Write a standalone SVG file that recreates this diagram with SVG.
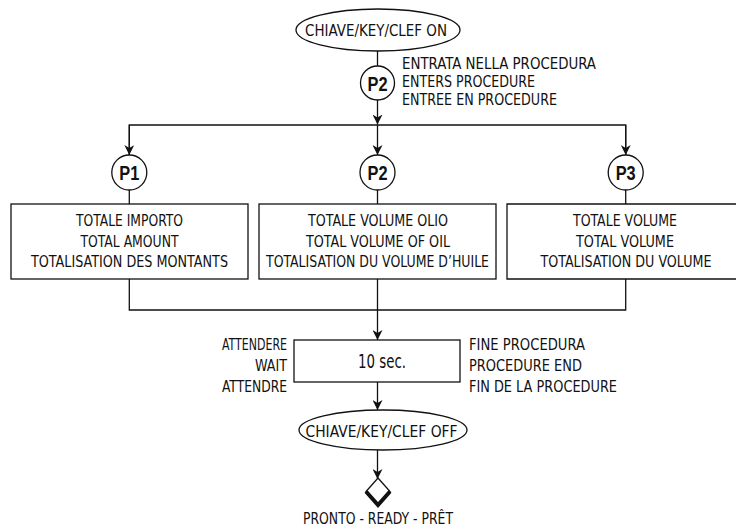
<svg xmlns="http://www.w3.org/2000/svg" width="736" height="527" viewBox="0 0 736 527">
  <defs>
    <marker id="arrow" viewBox="0 0 10 10" refX="10" refY="5" markerWidth="10" markerHeight="10" markerUnits="userSpaceOnUse" orient="auto">
      <path d="M0,0 L10,5 L0,10 L3,5 z" fill="#111"/>
    </marker>
    <style>
      .ln { fill: none; stroke: #111; stroke-width: 1.3; }
      .shape { fill: #fff; stroke: #111; stroke-width: 1.3; }
      .t { font-family: "Liberation Sans Narrow", "DejaVu Sans Condensed", "Liberation Sans", sans-serif; font-size: 16.5px; fill: #111; }
      .c { text-anchor: middle; }
      .r { text-anchor: end; }
      .p { font-family: "Liberation Sans Narrow", "Liberation Sans", sans-serif; font-weight: bold; font-size: 21px; fill: #111; text-anchor: middle; }
    </style>
  </defs>
  <rect width="736" height="527" fill="#fff"/>

  <!-- connectors -->
  <g id="connectors">
    <line class="ln" x1="377.5" y1="51" x2="377.5" y2="66"/>
    <line class="ln" x1="377.5" y1="100" x2="377.5" y2="124.5" marker-end="url(#arrow)"/>
    <polyline class="ln" points="129.3,155 129.3,125 625.7,125 625.7,155"/>
    <line class="ln" x1="129.3" y1="125" x2="129.3" y2="155" marker-end="url(#arrow)"/>
    <line class="ln" x1="377.5" y1="125" x2="377.5" y2="155" marker-end="url(#arrow)"/>
    <line class="ln" x1="625.7" y1="125" x2="625.7" y2="155" marker-end="url(#arrow)"/>
    <line class="ln" x1="129.3" y1="190" x2="129.3" y2="204"/>
    <line class="ln" x1="377.5" y1="190" x2="377.5" y2="204"/>
    <line class="ln" x1="625.7" y1="190" x2="625.7" y2="204"/>
    <polyline class="ln" points="129.3,279 129.3,310 625.7,310 625.7,279"/>
    <line class="ln" x1="377.5" y1="279" x2="377.5" y2="340" marker-end="url(#arrow)"/>
    <line class="ln" x1="377.5" y1="382" x2="377.5" y2="410" marker-end="url(#arrow)"/>
    <line class="ln" x1="377.5" y1="450" x2="377.5" y2="479" marker-end="url(#arrow)"/>
  </g>

  <!-- start -->
  <g id="key-on">
    <ellipse class="shape" cx="378" cy="30" rx="82" ry="21"/>
    <text class="t c" x="376" y="36" textLength="142" lengthAdjust="spacingAndGlyphs">CHIAVE/KEY/CLEF ON</text>
  </g>

  <g id="enter-p2">
    <circle class="shape" cx="377.5" cy="83" r="17"/>
    <text class="p" x="377.5" y="90.5" textLength="20" lengthAdjust="spacingAndGlyphs">P2</text>
    <text class="t" x="402" y="69" textLength="194" lengthAdjust="spacingAndGlyphs">ENTRATA NELLA PROCEDURA</text>
    <text class="t" x="402" y="87" textLength="133" lengthAdjust="spacingAndGlyphs">ENTERS PROCEDURE</text>
    <text class="t" x="402" y="105" textLength="155" lengthAdjust="spacingAndGlyphs">ENTREE EN PROCEDURE</text>
  </g>

  <!-- branch P1 -->
  <g id="p1">
    <circle class="shape" cx="129.3" cy="172.5" r="17.5"/>
    <text class="p" x="129.3" y="180" textLength="20" lengthAdjust="spacingAndGlyphs">P1</text>
  </g>
  <g id="total-amount">
    <rect class="shape" x="11" y="204" width="237" height="75"/>
    <text class="t c" x="129.5" y="226" textLength="107" lengthAdjust="spacingAndGlyphs">TOTALE IMPORTO</text>
    <text class="t c" x="129.5" y="246.5" textLength="98" lengthAdjust="spacingAndGlyphs">TOTAL AMOUNT</text>
    <text class="t c" x="129.5" y="267" textLength="197" lengthAdjust="spacingAndGlyphs">TOTALISATION DES MONTANTS</text>
  </g>

  <!-- branch P2 -->
  <g id="p2">
    <circle class="shape" cx="377.5" cy="172.5" r="17.5"/>
    <text class="p" x="377.5" y="180" textLength="20" lengthAdjust="spacingAndGlyphs">P2</text>
  </g>
  <g id="total-oil">
    <rect class="shape" x="259" y="204" width="237" height="75"/>
    <text class="t c" x="378" y="226" textLength="140" lengthAdjust="spacingAndGlyphs">TOTALE VOLUME OLIO</text>
    <text class="t c" x="378" y="246.5" textLength="144" lengthAdjust="spacingAndGlyphs">TOTAL VOLUME OF OIL</text>
    <text class="t c" x="377.5" y="267" textLength="223" lengthAdjust="spacingAndGlyphs">TOTALISATION DU VOLUME D’HUILE</text>
  </g>

  <!-- branch P3 (box runs to the right edge of the sheet) -->
  <g id="p3">
    <circle class="shape" cx="625.7" cy="172.5" r="17.5"/>
    <text class="p" x="625.7" y="180" textLength="20" lengthAdjust="spacingAndGlyphs">P3</text>
  </g>
  <g id="total-volume">
    <path class="ln" d="M736,204 H507 V279 H736"/>
    <text class="t c" x="625" y="226" textLength="104" lengthAdjust="spacingAndGlyphs">TOTALE VOLUME</text>
    <text class="t c" x="625" y="246.5" textLength="98" lengthAdjust="spacingAndGlyphs">TOTAL VOLUME</text>
    <text class="t c" x="626" y="267" textLength="171" lengthAdjust="spacingAndGlyphs">TOTALISATION DU VOLUME</text>
  </g>

  <!-- wait -->
  <g id="wait">
    <rect class="shape" x="294" y="340" width="166" height="42"/>
    <text class="t c" x="382" y="368" style="font-size:19px" textLength="48" lengthAdjust="spacingAndGlyphs">10 sec.</text>
    <text class="t r" x="287" y="350" textLength="65" lengthAdjust="spacingAndGlyphs">ATTENDERE</text>
    <text class="t r" x="287" y="370.5" textLength="32" lengthAdjust="spacingAndGlyphs">WAIT</text>
    <text class="t r" x="287" y="391.5" textLength="65" lengthAdjust="spacingAndGlyphs">ATTENDRE</text>
    <text class="t" x="469" y="350" textLength="116" lengthAdjust="spacingAndGlyphs">FINE PROCEDURA</text>
    <text class="t" x="469" y="370.5" textLength="113" lengthAdjust="spacingAndGlyphs">PROCEDURE END</text>
    <text class="t" x="469" y="391.5" textLength="148" lengthAdjust="spacingAndGlyphs">FIN DE LA PROCEDURE</text>
  </g>

  <!-- end -->
  <g id="key-off">
    <ellipse class="shape" cx="383" cy="430" rx="84" ry="20"/>
    <text class="t c" x="381.5" y="436.5" textLength="152" lengthAdjust="spacingAndGlyphs">CHIAVE/KEY/CLEF  OFF</text>
  </g>

  <g id="ready">
    <polygon class="shape" points="378,478 390,491.5 378,505 366,491.5"/>
    <polyline points="366,491.5 378,505 390,491.5" fill="none" stroke="#111" stroke-width="4"/>
    <text class="t c" x="378" y="524" textLength="150" lengthAdjust="spacingAndGlyphs">PRONTO - READY - PRÊT</text>
  </g>
</svg>
